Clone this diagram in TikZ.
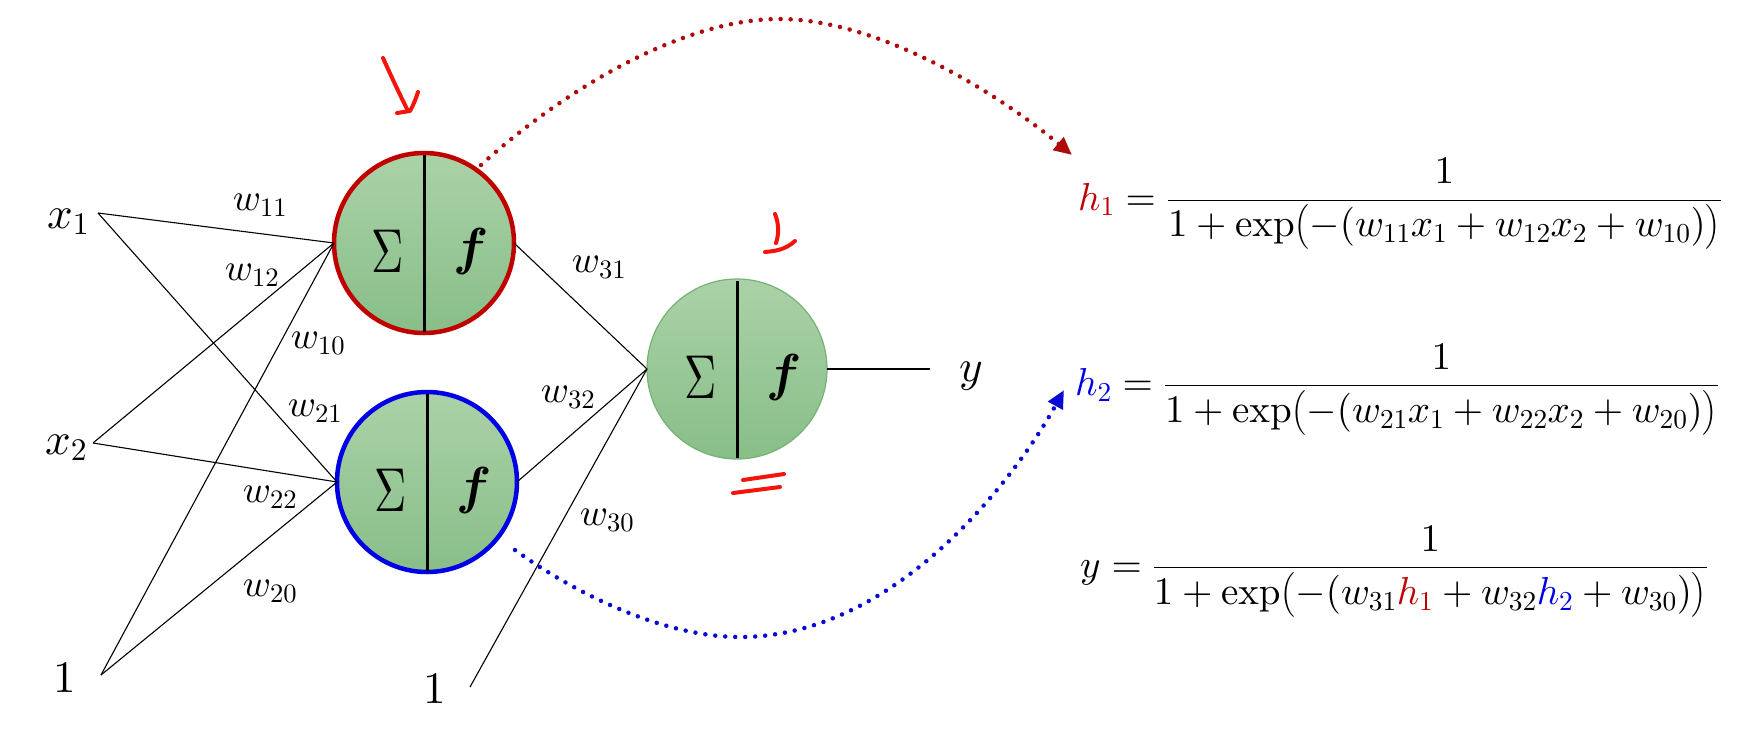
\RequirePackage{fix-cm}
\documentclass[tikz,border=0pt]{standalone}
\usepackage{amsmath}
\usepackage{graphicx}
\usetikzlibrary{arrows.meta}
\DeclareFontShape{OML}{cmm}{m}{it}{<->cmmi10}{}
\DeclareFontShape{OT1}{cmr}{m}{n}{<->cmr10}{}
\DeclareFontShape{OMS}{cmsy}{m}{n}{<->cmsy10}{}
\definecolor{hred}{RGB}{192,0,0}
\definecolor{hblue}{RGB}{0,0,230}
\definecolor{dred}{RGB}{175,10,10}
\definecolor{dblue}{RGB}{10,10,215}
\definecolor{gtop}{RGB}{170,210,168}
\definecolor{gbot}{RGB}{136,190,136}
\definecolor{gedge}{RGB}{118,178,118}
\definecolor{markred}{RGB}{245,20,10}
\begin{document}
\begin{tikzpicture}[x=1pt,y=-1pt,
  neuron/.style={circle,minimum size=180pt,inner sep=0pt,outer sep=0pt,top color=gtop,bottom color=gbot},
  hidA/.style={neuron,draw=hred,line width=4.5pt},
  hidB/.style={neuron,draw=hblue,line width=4.5pt},
  outn/.style={neuron,draw=gedge,line width=1.2pt},
  conn/.style={draw=black,line width=1.1pt},
  divider/.style={draw=black,line width=3pt},
  sig/.style={inner sep=0pt,font=\fontsize{62}{70}\selectfont},
  fun/.style={inner sep=0pt,font=\fontsize{52}{60}\selectfont},
  inlab/.style={inner sep=0pt,anchor=base west,font=\fontsize{45}{52}\selectfont},
  wlab/.style={inner sep=0pt,font=\fontsize{38}{44}\selectfont},
  eqn/.style={inner sep=0pt,anchor=base west,font=\fontsize{39}{46}\selectfont},
  dotline/.style={line width=4.5pt,line cap=round,dash pattern=on 0pt off 10pt,-{Triangle[length=18pt,width=16pt]}},
  hand/.style={draw=markred,line width=4pt,line cap=round,line join=round}
]
\fill[white] (0,0) rectangle (1746,732);
\useasboundingbox (0,0) rectangle (1746,732);

% input labels and their line ends
\node[inlab] (x1) at (47,228) {$x_1$};
\node[inlab] (x2) at (45,454) {$x_2$};
\node[inlab] (b1) at (53,692) {$1$};
\node[inlab] (b2) at (423,703) {$1$};
\node[inlab] (yl) at (959,381) {$y$};
\coordinate (x1e) at (98,213);
\coordinate (x2e) at (93,443);
\coordinate (b1e) at (101,675);
\coordinate (b2e) at (470,687);
\coordinate (ye) at (930,369);

% neurons
\node[hidA] (n1) at (424,243) {};
\node[hidB] (n2) at (427,482) {};
\node[outn] (n3) at (737,369) {};

% connections
\draw[conn] (x1e) -- (n1.west);
\draw[conn] (x1e) -- (n2.west);
\draw[conn] (x2e) -- (n1.west);
\draw[conn] (x2e) -- (n2.west);
\draw[conn] (b1e) -- (n1.west);
\draw[conn] (b1e) -- (n2.west);
\draw[conn] (n1.east) -- (n3.west);
\draw[conn] (n2.east) -- (n3.west);
\draw[conn] (b2e) -- (n3.west);
\draw[conn] (n3.east) -- (ye);

% dividers and symbols
\foreach \n in {n1,n2,n3}{
  \draw[divider] ([yshift=-1.5pt]\n.north) -- ([yshift=1.5pt]\n.south);
  \node[sig] at ([xshift=-36pt,yshift=-8pt]\n.center) {\scalebox{0.72}[1]{$\Sigma$}};
  \node[fun] at ([xshift=47pt,yshift=-8pt]\n.center) {$\boldsymbol{f}$};
}

% weight labels
\node[wlab] (w11) at (260,205) {$w_{11}$};
\node[wlab] (w12) at (252,275) {$w_{12}$};
\node[wlab] (w10) at (318,343) {$w_{10}$};
\node[wlab] (w21) at (315,411) {$w_{21}$};
\node[wlab] (w22) at (270,497) {$w_{22}$};
\node[wlab] (w20) at (270,591) {$w_{20}$};
\node[wlab] (w31) at (599,267) {$w_{31}$};
\node[wlab] (w32) at (568,397) {$w_{32}$};
\node[wlab] (w30) at (607,520) {$w_{30}$};

% equations
\node[eqn] (e1) at (1078,210) {${\color{hred}h_1} = \dfrac{1}{1+\exp\bigl(-(w_{11}x_1+w_{12}x_2+w_{10})\bigr)}$};
\node[eqn] (e2) at (1075,395.5) {${\color{hblue}h_2} = \dfrac{1}{1+\exp\bigl(-(w_{21}x_1+w_{22}x_2+w_{20})\bigr)}$};
\node[eqn] (e3) at (1080,577.5) {$y = \dfrac{1}{1+\exp\bigl(-(w_{31}{\color{hred}h_1}+w_{32}{\color{hblue}h_2}+w_{30})\bigr)}$};

% dotted arrows
\coordinate (r0) at (481,165);
\coordinate (r1) at (1072,155);
\coordinate (u0) at (515,550);
\coordinate (u1) at (1064,390);
\draw[dotline,draw=dred] (r0) .. controls (560,93) and (680,19) .. (779,19) .. controls (880,19) and (1000,95) .. (r1);
\draw[dotline,draw=dblue] (u0) .. controls (570,590) and (660,637) .. (740,637) .. controls (900,637) and (1020,470) .. (u1);

% hand-drawn red marks
\draw[hand] (383,58) .. controls (392,78) and (400,95) .. (408,111);
\draw[hand] (397,113) -- (410,111) .. controls (414,104) and (416,98) .. (418,92);
\draw[hand] (775,214) .. controls (779,224) and (779,234) .. (776,243);
\draw[hand] (765,252) .. controls (775,251) and (785,250) .. (795,241);
\draw[hand] (743,480) -- (784,474);
\draw[hand] (733,493) -- (780,487);
\end{tikzpicture}
\end{document}
